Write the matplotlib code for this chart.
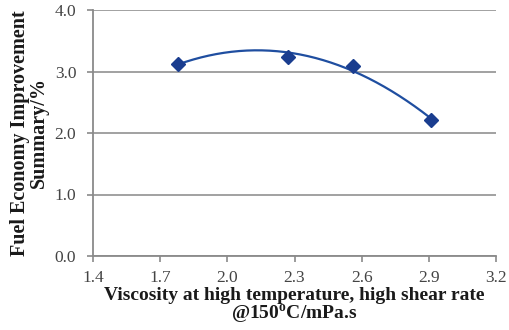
import matplotlib
matplotlib.use("Agg")
import matplotlib.pyplot as plt
import numpy as np

viscosity = [1.78, 2.27, 2.56, 2.91]
improvement = [3.13, 3.24, 3.09, 2.21]
x_ticks = [1.4, 1.7, 2.0, 2.3, 2.6, 2.9, 3.2]
y_ticks = [0.0, 1.0, 2.0, 3.0, 4.0]

plt.rcParams['font.family'] = ['Liberation Serif', 'DejaVu Serif']
plt.rcParams['mathtext.fontset'] = 'custom'
plt.rcParams['mathtext.rm'] = 'Liberation Serif'
plt.rcParams['mathtext.bf'] = 'Liberation Serif:bold'

fig = plt.figure(figsize=(5.09, 3.30), dpi=100)
ax = fig.add_axes([93/509, 1-256/330, (496-93)/509, (256-10)/330])

coef = np.polyfit(viscosity, improvement, 2)
xs = np.linspace(min(viscosity), max(viscosity), 200)
ax.plot(xs, np.polyval(coef, xs), color='#1f4ea0', lw=1.6, zorder=3)
ax.plot(viscosity, improvement, linestyle='none', marker='D', ms=7,
        color='#1a3d8f', zorder=4)

ax.set_xlim(1.4, 3.2)
ax.set_ylim(0, 4.0)
ax.set_xticks(x_ticks)
ax.set_yticks(y_ticks)
ax.set_xticklabels([f"{v:.1f}" for v in x_ticks])
ax.set_yticklabels([f"{v:.1f}" for v in y_ticks])
ax.grid(axis='y', color='#9a9a9a', lw=1.3)
ax.set_axisbelow(True)
for s in ['top', 'right']:
    ax.spines[s].set_visible(False)
for s in ['left', 'bottom']:
    ax.spines[s].set_color('#8a8a8a')
    ax.spines[s].set_linewidth(1.3)
ax.tick_params(axis='both', colors='#8a8a8a', labelcolor='#444444',
               labelsize=12.5, length=4, width=1.2)
ax.tick_params(axis='x', pad=6)
ax.tick_params(axis='y', pad=8)

ax.set_xlabel("Viscosity at high temperature, high shear rate\n@150$^{\\mathbf{o}}$C/mPa.s",
              fontsize=14, fontweight='bold', color='#1a1a1a', labelpad=1,
              linespacing=0.9)
ax.set_ylabel("Fuel Economy Improvement\nSummary/%", fontsize=14.5,
              fontweight='bold', color='#1a1a1a', labelpad=4, linespacing=0.95)

fig.savefig("out.png", dpi=100)
